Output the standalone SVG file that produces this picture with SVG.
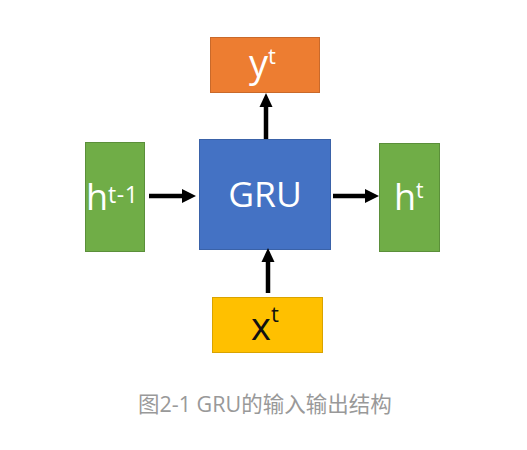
<svg xmlns="http://www.w3.org/2000/svg" width="527" height="450" viewBox="0 0 527 450">
<style>
.box{stroke-width:1}
.green{fill:#70AD47;stroke:#5B8F3A}
.blue{fill:#4472C4;stroke:#3A62A8}
.orange{fill:#ED7D31;stroke:#C9692A}
.yellow{fill:#FFC000;stroke:#D9A300}
.lbl{font-family:"Open Sans","Noto Sans",sans-serif;fill:#fff}
.dark{fill:#111}
.cap{font-family:"Open Sans","Noto Sans CJK SC",sans-serif;font-size:21.5px;fill:#999}
.ln{stroke:#000;stroke-width:4.5;fill:none}
</style>
<rect width="527" height="450" fill="#fff"/>
<g id="y">
<rect class="box orange" x="210.5" y="37.5" width="109" height="55"/>
<text class="lbl" x="249" y="77" font-size="38">y<tspan font-size="22" dy="-13">t</tspan></text>
</g>
<g id="gru">
<rect class="box blue" x="199.5" y="139.5" width="131" height="110"/>
<text class="lbl" x="265" y="207" font-size="35.5" text-anchor="middle">GRU</text>
</g>
<g id="hprev">
<rect class="box green" x="85.5" y="142.5" width="59" height="109"/>
<text class="lbl" x="86" y="210" font-size="36">h<tspan font-size="23" dy="-7" letter-spacing="0.5">t-1</tspan></text>
</g>
<g id="hnext">
<rect class="box green" x="379.5" y="143.5" width="60" height="108"/>
<text class="lbl" x="394" y="210" font-size="36">h<tspan font-size="21" dy="-12">t</tspan></text>
</g>
<g id="x">
<rect class="box yellow" x="212.5" y="297.5" width="110" height="55"/>
<text class="lbl dark" x="251" y="340" font-size="38">x<tspan font-size="22" dy="-18">t</tspan></text>
</g>
<g id="connectors">
<line class="ln" x1="149" y1="196" x2="184" y2="196"/>
<polygon points="182,189 196,196 182,203"/>
<line class="ln" x1="333" y1="196" x2="367" y2="196"/>
<polygon points="365,189 379,196 365,203"/>
<line class="ln" x1="266" y1="139" x2="266" y2="105"/>
<polygon points="259.5,107 266,93 272.5,107"/>
<line class="ln" x1="268" y1="293" x2="268" y2="260"/>
<polygon points="261.5,262 268,248 274.5,262"/>
</g>
<text class="cap" x="138" y="412">图2-1 GRU的输入输出结构</text>
</svg>
